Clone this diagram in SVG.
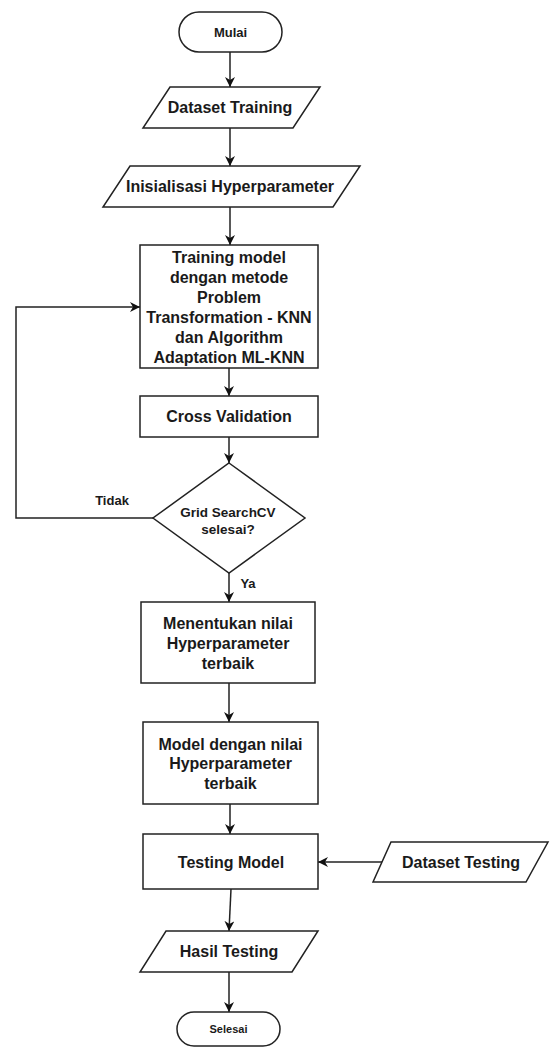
<svg xmlns="http://www.w3.org/2000/svg" width="552" height="1047" viewBox="0 0 552 1047">
<style>
.s{fill:#fff;stroke:#222;stroke-width:1.5}
.t{font-family:"Liberation Sans",Arial,sans-serif;font-weight:bold;font-size:16px;fill:#1a1a1a;text-anchor:middle}
.c{fill:none;stroke:#222;stroke-width:1.5}
</style>
<defs>
<marker id="ah" markerUnits="userSpaceOnUse" markerWidth="11" markerHeight="11" refX="10" refY="5" orient="auto">
<path d="M0,0 L10,5 L0,10 L3,5 z" fill="#111"/>
</marker>
</defs>
<rect width="552" height="1047" fill="#fff"/>
<g id="connectors">
<path class="c" marker-end="url(#ah)" d="M230,52 V87"/>
<path class="c" marker-end="url(#ah)" d="M230,128 V166"/>
<path class="c" marker-end="url(#ah)" d="M230,207 V245"/>
<path class="c" marker-end="url(#ah)" d="M229,368 V396"/>
<path class="c" marker-end="url(#ah)" d="M229,437 V463"/>
<path class="c" marker-end="url(#ah)" d="M229,573 V602"/>
<path class="c" marker-end="url(#ah)" d="M229,683 V722"/>
<path class="c" marker-end="url(#ah)" d="M230,804 V834"/>
<path class="c" marker-end="url(#ah)" d="M231,889 L229,931"/>
<path class="c" marker-end="url(#ah)" d="M229,972 V1012"/>
<path class="c" marker-end="url(#ah)" d="M153,518 H16 V307 H140"/>
<path class="c" marker-end="url(#ah)" d="M382,862 H318"/>
<text class="t" x="112" y="505" style="font-size:13px">Tidak</text>
<text class="t" x="248" y="588" style="font-size:13px">Ya</text>
</g>
<g id="mulai">
<rect class="s" x="179" y="12" width="103" height="40" rx="20"/>
<text class="t" x="230.5" y="37" style="font-size:13px">Mulai</text>
</g>
<g id="dataset-training">
<polygon class="s" points="170,87 320,87 293,128 143,128"/>
<text class="t" x="230" y="113">Dataset Training</text>
</g>
<g id="inisialisasi">
<polygon class="s" points="130,166 360,166 333,207 103,207"/>
<text class="t" x="230" y="192">Inisialisasi Hyperparameter</text>
</g>
<g id="training">
<rect class="s" x="140" y="245" width="178" height="123"/>
<text class="t" x="229" y="263">Training model</text>
<text class="t" x="229" y="283">dengan metode</text>
<text class="t" x="229" y="303">Problem</text>
<text class="t" x="229" y="323">Transformation - KNN</text>
<text class="t" x="229" y="343">dan Algorithm</text>
<text class="t" x="229" y="363">Adaptation ML-KNN</text>
</g>
<g id="cross-validation">
<rect class="s" x="140" y="396" width="178" height="41"/>
<text class="t" x="229" y="422">Cross Validation</text>
</g>
<g id="grid-search">
<polygon class="s" points="229,463 305,518 229,573 153,518"/>
<text class="t" x="228" y="517" style="font-size:13.5px">Grid SearchCV</text>
<text class="t" x="228" y="534" style="font-size:13.5px">selesai?</text>
</g>
<g id="menentukan">
<rect class="s" x="141" y="602" width="174" height="81"/>
<text class="t" x="228" y="629">Menentukan nilai</text>
<text class="t" x="228" y="649">Hyperparameter</text>
<text class="t" x="228" y="669">terbaik</text>
</g>
<g id="model">
<rect class="s" x="143" y="722" width="175" height="82"/>
<text class="t" x="230.5" y="750">Model dengan nilai</text>
<text class="t" x="230.5" y="769">Hyperparameter</text>
<text class="t" x="230.5" y="789">terbaik</text>
</g>
<g id="testing-model">
<rect class="s" x="143" y="834" width="175" height="55"/>
<text class="t" x="231" y="868">Testing Model</text>
</g>
<g id="dataset-testing">
<polygon class="s" points="391,842 548,842 526,882 373,882"/>
<text class="t" x="461" y="868">Dataset Testing</text>
</g>
<g id="hasil-testing">
<polygon class="s" points="166,931 318,931 292,972 140,972"/>
<text class="t" x="229" y="957">Hasil Testing</text>
</g>
<g id="selesai">
<rect class="s" x="177" y="1012" width="103" height="34" rx="17"/>
<text class="t" x="228.5" y="1033" style="font-size:11px">Selesai</text>
</g>
</svg>
